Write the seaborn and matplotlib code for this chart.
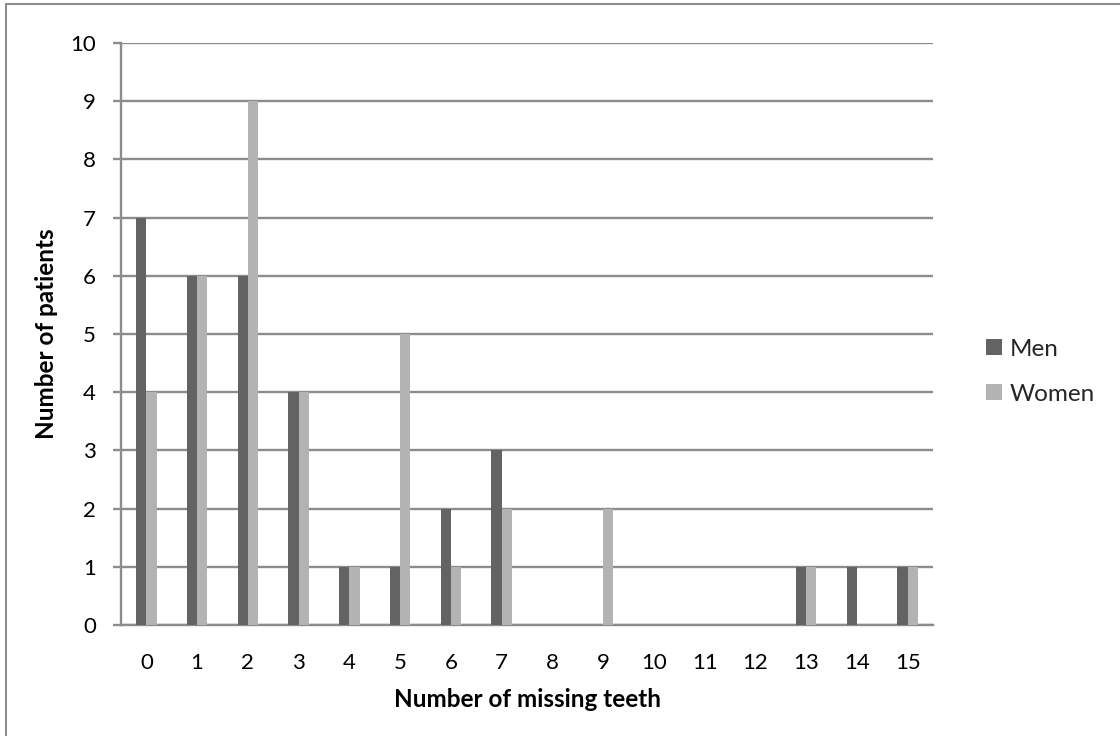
import matplotlib
matplotlib.use("Agg")
import matplotlib.pyplot as plt
import seaborn as sns
import pandas as pd
from matplotlib.lines import Line2D

missing_teeth = list(range(16))
men = [7, 6, 6, 4, 1, 1, 2, 3, 0, 0, 0, 0, 0, 1, 1, 1]
women = [4, 6, 9, 4, 1, 5, 1, 2, 0, 2, 0, 0, 0, 1, 0, 1]
y_ticks = list(range(0, 11))

df = pd.DataFrame({
    "teeth": [str(t) for t in missing_teeth] * 2,
    "count": men + women,
    "sex": ["Men"] * len(men) + ["Women"] * len(women),
})

sns.set_theme(style="white")
plt.rcParams["font.family"] = ["Lato", "DejaVu Sans"]

W, H = 1120, 736
fig = plt.figure(figsize=(W / 100, H / 100), dpi=100)
ax = fig.add_axes([121 / W, 1 - 625 / H, 812 / W, 582 / H])

palette = {"Men": "#636363", "Women": "#b3b3b3"}
sns.barplot(data=df, x="teeth", y="count", hue="sex", palette=palette,
            width=0.4, saturation=1, ax=ax, order=[str(t) for t in missing_teeth],
            linewidth=0, zorder=3)

grid_col = "#8c8c8c"
ax.set_ylim(0, 10)
ax.set_xlim(-0.5, 15.5)
ax.set_yticks(y_ticks)
ax.yaxis.grid(True, color=grid_col, linewidth=1.7, zorder=0)
ax.set_axisbelow(True)
for side in ["top", "right"]:
    ax.spines[side].set_visible(False)
for side in ["left", "bottom"]:
    ax.spines[side].set_color(grid_col)
    ax.spines[side].set_linewidth(1.7)
ax.tick_params(axis="y", which="major", left=True, length=6, width=1.7,
               color=grid_col, labelsize=16, pad=12)
ax.tick_params(axis="x", which="major", bottom=False, labelsize=16, pad=14)
for lbl in ax.get_xticklabels() + ax.get_yticklabels():
    lbl.set_color("black")

ax.set_xlabel("Number of missing teeth", fontsize=17.5, fontweight="bold",
              labelpad=11, color="black")
ax.set_ylabel("Number of patients", fontsize=17.5, fontweight="bold",
              labelpad=9, color="black")

handles, labels = ax.get_legend_handles_labels()
ax.get_legend().remove()
fig.legend(handles, labels, loc="center left", bbox_to_anchor=(986 / W, 0.495),
           bbox_transform=fig.transFigure, frameon=False, fontsize=17.5,
           handlelength=0.66, handleheight=0.62, handletextpad=0.3,
           labelspacing=1.0, borderpad=0, borderaxespad=0)

# chart frame (left and top edges)
fig.add_artist(Line2D([6 / W, 6 / W], [0, 1 - 4 / H], transform=fig.transFigure,
                      color=grid_col, linewidth=1.5))
fig.add_artist(Line2D([6 / W, 1], [1 - 4 / H, 1 - 4 / H], transform=fig.transFigure,
                      color=grid_col, linewidth=1.5))

fig.savefig("out.png", dpi=100)
